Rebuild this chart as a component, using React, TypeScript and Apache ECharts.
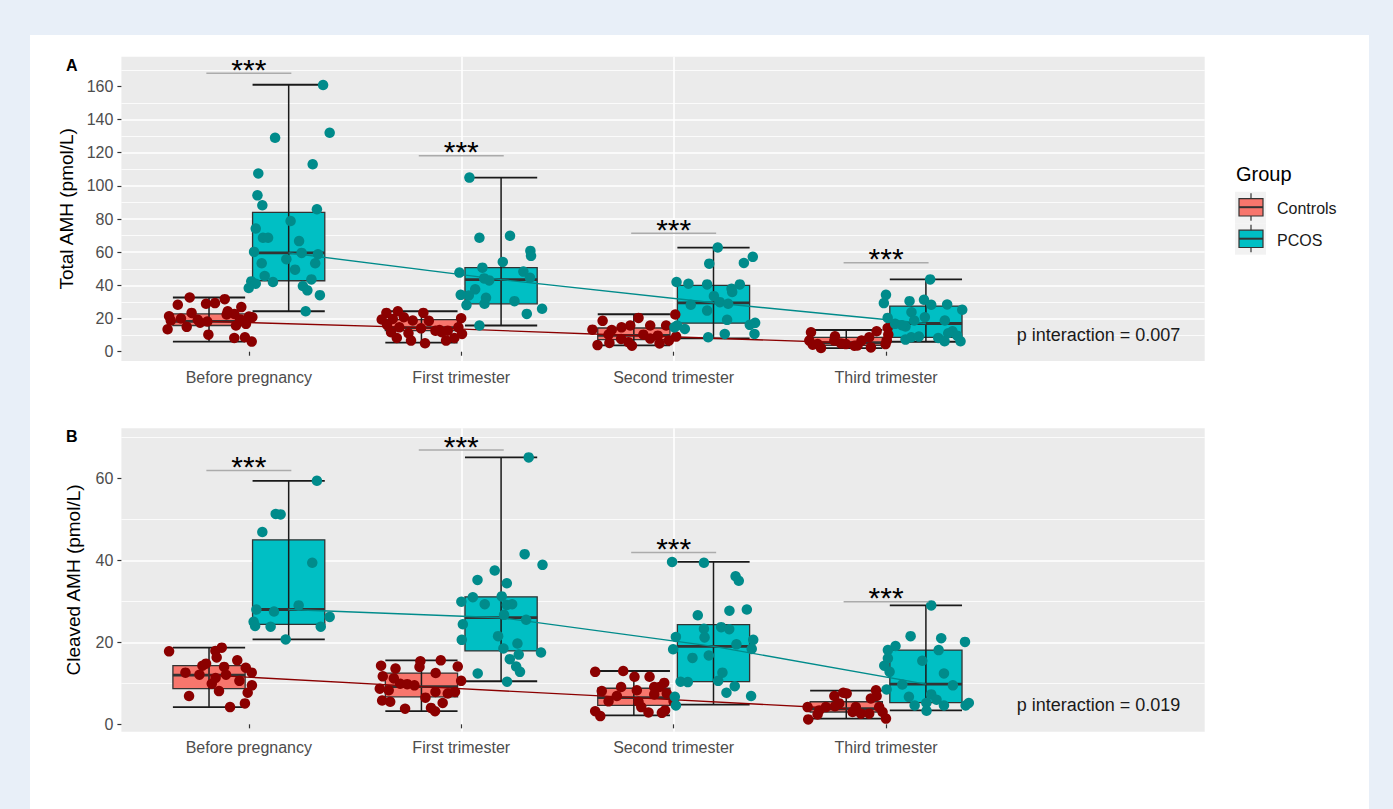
import React, { useEffect, useRef } from "react";
import * as echarts from "echarts";

const FONT = "'Liberation Sans', Arial, Helvetica, sans-serif";

const CATEGORIES = ["Before pregnancy", "First trimester", "Second trimester", "Third trimester"];
const CAT_POS = [1, 2, 3, 4];
const GROUPS = ["Controls", "PCOS"];

const A_TICKS = [0, 20, 40, 60, 80, 100, 120, 140, 160];
const B_TICKS = [0, 20, 40, 60];

// box statistics: [min, Q1, median, Q3, max]
const A_CTRL_BOX = [
  [6.1, 15.8, 18.3, 22.8, 32.7],
  [5.5, 12.7, 14.5, 19.4, 24.4],
  [3.8, 7.3, 9.8, 14.3, 22.6],
  [2.2, 3.8, 5.4, 8.7, 13.1],
];
const A_PCOS_BOX = [
  [24.4, 42.8, 59.6, 84, 161],
  [15.8, 28.9, 43.5, 50.7, 105],
  [8.1, 17.2, 29.5, 40, 62.8],
  [6.0, 8.7, 17, 27.5, 43.6],
];
const B_CTRL_BOX = [
  [4.2, 8.7, 12, 14.3, 18.7],
  [3.2, 6.7, 9.2, 12.5, 15.6],
  [2.2, 4.6, 6.5, 8.8, 13],
  [1.4, 3, 3.8, 5.5, 8.2],
];
const B_PCOS_BOX = [
  [20.7, 24.4, 28, 45, 59.4],
  [10.5, 17.9, 26, 31.1, 65.1],
  [4.8, 10.4, 19, 24.3, 39.6],
  [3.4, 5.3, 9.8, 18.1, 29],
];

// jittered points: [horizontal jitter (category units), value]
const A_CTRL_PTS = [
  [[-0.091, 32.7], [0.074, 31.7], [-0.147, 28.3], [-0.014, 28.9], [0.028, 29.3], [0.152, 26.9], [0.088, 24.4], [0.119, 22.8], [-0.082, 23.4], [-0.188, 21.4], [-0.18, 18.8], [-0.132, 20], [-0.105, 15], [-0.053, 19.2], [-0.008, 18.2], [0.083, 22.4], [0.188, 21.2], [0.204, 20.8], [0.127, 15.8], [0.174, 16.8], [-0.195, 13.5], [-0.003, 10.3], [0.119, 8.3], [0.169, 8.7], [0.201, 6.1], [-0.042, 17.5], [0.146, 19.5]],
  [[-0.165, 23.4], [-0.111, 24.4], [0.009, 23.4], [-0.187, 19.4], [-0.135, 19.8], [-0.083, 20.8], [-0.041, 18.8], [0.035, 18.6], [0.187, 20.2], [-0.162, 16.2], [-0.104, 14.7], [-0.002, 14.1], [0.085, 13.1], [0.124, 12.7], [0.174, 14.7], [-0.143, 11.7], [-0.061, 11.1], [-0.116, 8.3], [-0.049, 6.7], [0.116, 6.7], [0.155, 8.3], [0.191, 10.7], [0.017, 5.1], [0.096, 11.7], [0.066, 12.6]],
  [[-0.147, 18.6], [0.022, 20.4], [0.195, 22.4], [0.199, 9.1], [-0.195, 13.3], [-0.104, 13.1], [-0.058, 14.7], [-0.017, 15.8], [0.077, 15.8], [0.152, 15.8], [-0.119, 10.3], [0.045, 10.3], [0.113, 9.7], [-0.171, 4], [-0.115, 5.3], [-0.025, 5.7], [-0.009, 3.6], [0.121, 5], [0.165, 6.7], [-0.06, 7.7], [0.077, 7.9]],
  [[-0.166, 11.7], [-0.174, 6.7], [-0.135, 4.6], [-0.119, 2.2], [-0.053, 9.3], [-0.056, 6.7], [-0.002, 4.6], [0.038, 3.6], [0.072, 6.7], [0.108, 8.7], [0.116, 2.6], [0.143, 12.3], [0.195, 14.3], [0.198, 10.3], [0.191, 6.7], [0.185, 4.6], [-0.025, 5], [0.053, 3.8], [-0.158, 4.2]],
];
const A_PCOS_PTS = [
  [[0.162, 160.8], [0.193, 132], [-0.064, 129], [0.113, 113], [-0.143, 107.5], [-0.147, 94.3], [-0.124, 88.3], [0.133, 85.9], [0.009, 78.8], [-0.155, 74.3], [-0.121, 68.7], [-0.097, 68.7], [0.049, 66.7], [-0.163, 60.2], [0.061, 59.6], [0.138, 58.8], [-0.011, 55.8], [0.125, 53.3], [-0.127, 53.3], [0.03, 49.5], [-0.113, 45.7], [-0.074, 42], [-0.176, 42.4], [-0.155, 41], [-0.188, 38.4], [0.107, 43.6], [0.067, 39.6], [0.088, 37], [0.147, 34.1], [0.08, 24.4]],
  [[-0.149, 105], [-0.102, 68.7], [0.042, 69.9], [0.138, 60.8], [0.141, 57.8], [0.008, 54.1], [-0.088, 50.7], [-0.196, 47.7], [0.105, 48.3], [0.136, 44.6], [-0.08, 44.2], [-0.056, 43], [-0.122, 37.6], [-0.19, 34.3], [-0.152, 33.9], [-0.071, 32.5], [-0.078, 28.9], [-0.163, 28.1], [0.063, 30.5], [0.193, 25.9], [0.121, 22.8], [-0.102, 15.8]],
  [[0.02, 62.8], [0.185, 57.2], [0.143, 53.5], [-0.02, 53.1], [-0.174, 42], [-0.118, 41], [-0.03, 40.6], [0.124, 40.6], [0.085, 38], [0.088, 36], [0.002, 33.5], [0.03, 29.9], [0.069, 28.9], [-0.107, 28.3], [-0.03, 24.8], [0.064, 19.2], [0.196, 17.4], [0.171, 16.2], [-0.171, 15.8], [-0.135, 13.7], [-0.184, 14.7], [0.193, 10.7], [0.053, 10.7], [-0.025, 8.7]],
  [[0.02, 43.6], [-0.188, 34.3], [-0.198, 29.3], [-0.077, 30.5], [-0.009, 31.3], [0.025, 28.3], [0.1, 28.5], [0.171, 25.3], [-0.068, 23.8], [-0.055, 18.8], [-0.18, 20.4], [-0.145, 16.8], [-0.096, 15.2], [-0.005, 20.8], [0.089, 18.8], [0.125, 12.3], [0.105, 11.1], [-0.096, 7.3], [-0.069, 8.7], [-0.033, 9.1], [0.058, 8.3], [0.088, 6.3], [0.163, 6.3], [0.147, 9.7], [-0.113, 16]],
];
const B_CTRL_PTS = [
  [[-0.188, 17.8], [0.06, 18.7], [0.03, 17.9], [0.036, 16.3], [0.133, 15.6], [-0.031, 14.3], [-0.014, 14.8], [0.071, 14], [0.173, 13.8], [-0.111, 12.6], [-0.045, 12.1], [0.201, 12.6], [0.08, 12.1], [0.031, 11.3], [0.013, 9.9], [0.143, 10.6], [0.202, 9.5], [0.182, 7.7], [0.047, 8.1], [-0.094, 6.9], [0.099, 4.2], [0.169, 5.1]],
  [[-0.19, 14.3], [-0.122, 13.6], [-0.005, 15.4], [0.091, 15.6], [0.171, 14.1], [-0.009, 14], [0.067, 12.5], [-0.182, 11.7], [-0.13, 11.2], [0.187, 10.6], [-0.1, 9.9], [-0.067, 9.8], [-0.033, 9.5], [-0.196, 8.7], [-0.154, 8.3], [0.066, 7.9], [0.124, 7.5], [0.158, 7.9], [-0.185, 5.8], [-0.147, 5.5], [0.019, 6.5], [0.1, 5.2], [-0.077, 3.8], [0.045, 4], [0.064, 3.2]],
  [[-0.182, 12.8], [-0.05, 13], [0.003, 11.6], [0.074, 11.6], [-0.06, 9.1], [-0.151, 8.1], [0.014, 8.3], [0.096, 9.1], [0.143, 10.1], [0.121, 9.1], [-0.119, 5.6], [-0.08, 6.9], [0.022, 5.5], [0.096, 7.3], [0.155, 7.5], [0.187, 5.6], [0.035, 4.2], [0.069, 2.9], [0.132, 2.8], [0.147, 3.4], [-0.182, 3.2], [-0.158, 2]],
  [[-0.056, 6.9], [-0.014, 7.7], [0.002, 7.5], [0.14, 8.3], [0.143, 6.9], [0.116, 6.3], [-0.033, 5.1], [-0.053, 4.4], [-0.182, 4.2], [-0.127, 3.4], [-0.135, 2.4], [-0.179, 1.2], [0.03, 3], [0.069, 2.6], [0.108, 2.6], [0.187, 1.4], [0.171, 3], [0.155, 4.2], [-0.096, 4.2], [0.045, 4.2]],
];
const B_PCOS_PTS = [
  [[0.133, 59.4], [-0.061, 51.3], [-0.038, 51.2], [-0.124, 46.9], [0.111, 39.4], [0.047, 29], [-0.152, 28], [-0.069, 27.5], [0.193, 26.2], [-0.165, 25], [-0.158, 24], [-0.085, 23.8], [0.151, 23.8], [-0.014, 20.7]],
  [[0.13, 65.1], [0.111, 41.5], [0.195, 38.9], [-0.03, 37.5], [-0.111, 35.2], [0.027, 34.4], [-0.187, 29.9], [-0.133, 31], [-0.077, 29.3], [0.003, 31.2], [0.027, 29.1], [0.052, 29.3], [0.014, 26.7], [0.118, 25.5], [-0.18, 24.4], [-0.014, 21.5], [-0.185, 20.6], [0.077, 19.7], [0.083, 17], [0.188, 17.5], [0.011, 18.5], [0.041, 15.9], [0.071, 14.1], [0.089, 12.8], [-0.11, 12.4], [0.028, 10.4]],
  [[-0.195, 39.6], [-0.045, 39.4], [0.104, 36.1], [0.119, 35], [0.075, 27.7], [0.157, 28], [-0.074, 26.6], [-0.045, 23.3], [-0.042, 21.2], [0.036, 23.7], [0.074, 23.2], [-0.177, 21.3], [-0.19, 18.3], [0.187, 20.6], [0.18, 18.4], [0.108, 19.5], [-0.022, 16.8], [-0.099, 16.2], [0.042, 12.6], [0.022, 10.6], [-0.155, 10.4], [-0.121, 10.3], [0.1, 9.3], [0.061, 7.7], [0.177, 6.9], [-0.177, 4.6], [-0.182, 6.7]],
  [[0.025, 29], [-0.072, 21.5], [0.072, 21], [0.184, 20.1], [-0.143, 19.1], [-0.179, 18.1], [0.06, 18.1], [-0.179, 16.1], [-0.196, 14.3], [-0.017, 15.5], [-0.171, 12.8], [0.085, 12.4], [-0.111, 9.7], [0.127, 9.5], [-0.185, 8.5], [-0.08, 6.7], [0.025, 7.3], [0.05, 6], [0.085, 4.6], [-0.053, 4.6], [0.002, 5.2], [0.003, 3.3], [0.187, 4.6], [0.202, 5.2]],
];

// significance bar heights
const A_SIG_Y = [167.9, 118.2, 71.4, 53.7];
const B_SIG_Y = [61.9, 66.9, 41.9, 29.9];
const SIG_LABEL = "***";

const A_P_TEXT = "p interaction = 0.007";
const B_P_TEXT = "p interaction = 0.019";
const A_P_POS = [5, 10];
const B_P_POS = [5, 4.7];

const A_TITLE = "Total AMH (pmol/L)";
const B_TITLE = "Cleaved AMH (pmol/L)";

// layout / style constants
const DODGE = 0.1875;
const BOX_W = 0.34;
const SIG_HALF = 0.2;
const CTRL_FILL = "#F8766D";
const PCOS_FILL = "#00BFC4";
const CTRL_PT = "#8B0000";
const PCOS_PT = "#008B8B";
const PANEL_BG = "#EBEBEB";

function boxRenderer(fill: string) {
  return (params: any, api: any) => {
    const x = api.value(0);
    const mn = api.value(1), q1 = api.value(2), md = api.value(3), q3 = api.value(4), mx = api.value(5);
    const w = api.size([BOX_W, 0])[0];
    const cx = api.coord([x, md])[0];
    const y = (v: number) => api.coord([x, v])[1];
    const l = cx - w / 2, r = cx + w / 2;
    return {
      type: "group",
      children: [
        { type: "rect", shape: { x: l, y: y(q3), width: w, height: y(q1) - y(q3) }, style: { fill, stroke: "#333333", lineWidth: 1.3 } },
        { type: "line", shape: { x1: cx, y1: y(mx), x2: cx, y2: y(mn) }, style: { stroke: "#1a1a1a", lineWidth: 1.5 } },
        { type: "line", shape: { x1: l, y1: y(mx), x2: r, y2: y(mx) }, style: { stroke: "#1a1a1a", lineWidth: 1.8 } },
        { type: "line", shape: { x1: l, y1: y(mn), x2: r, y2: y(mn) }, style: { stroke: "#1a1a1a", lineWidth: 1.8 } },
        { type: "line", shape: { x1: l, y1: y(md), x2: r, y2: y(md) }, style: { stroke: "#333333", lineWidth: 2.8 } },
      ],
    };
  };
}

function sigRenderer(params: any, api: any) {
  const x = api.value(0), yv = api.value(1);
  const p1 = api.coord([x - SIG_HALF, yv]);
  const p2 = api.coord([x + SIG_HALF, yv]);
  const pc = api.coord([x, yv]);
  return {
    type: "group",
    children: [
      { type: "line", shape: { x1: p1[0], y1: p1[1], x2: p2[0], y2: p2[1] }, style: { stroke: "#ABABAB", lineWidth: 1.5 } },
      { type: "text", x: pc[0], y: pc[1] - 4, style: { text: SIG_LABEL, fontSize: 30, fill: "#000", align: "center", verticalAlign: "middle", fontFamily: FONT } },
    ],
  };
}

function buildPanel(idx: number, ctrlBox: number[][], pcosBox: number[][], ctrlPts: number[][][], pcosPts: number[][][], sigY: number[], pText: string, pPos: number[]) {
  const ax = { xAxisIndex: idx, yAxisIndex: idx };
  const boxData = (box: number[][], off: number) => box.map((s, i) => [CAT_POS[i] + off, ...s]);
  const ptData = (pts: number[][][], off: number) => {
    const out: number[][] = [];
    pts.forEach((arr, i) => arr.forEach(([dx, v]) => out.push([CAT_POS[i] + off + dx, v])));
    return out;
  };
  const medData = (box: number[][], off: number) => box.map((s, i) => [CAT_POS[i] + off, s[2]]);
  return [
    { type: "custom", name: GROUPS[0], ...ax, z: 2, renderItem: boxRenderer(CTRL_FILL), encode: { x: 0, y: [1, 2, 3, 4, 5] }, data: boxData(ctrlBox, -DODGE), itemStyle: { color: CTRL_FILL } },
    { type: "custom", name: GROUPS[1], ...ax, z: 2, renderItem: boxRenderer(PCOS_FILL), encode: { x: 0, y: [1, 2, 3, 4, 5] }, data: boxData(pcosBox, DODGE), itemStyle: { color: PCOS_FILL } },
    { type: "line", name: GROUPS[0] + " median", ...ax, z: 3, symbol: "none", data: medData(ctrlBox, -DODGE), lineStyle: { color: CTRL_PT, width: 1.4 } },
    { type: "line", name: GROUPS[1] + " median", ...ax, z: 3, symbol: "none", data: medData(pcosBox, DODGE), lineStyle: { color: PCOS_PT, width: 1.4 } },
    { type: "scatter", name: GROUPS[0] + " points", ...ax, z: 4, symbolSize: 10.5, data: ptData(ctrlPts, -DODGE), itemStyle: { color: CTRL_PT, opacity: 1 } },
    { type: "scatter", name: GROUPS[1] + " points", ...ax, z: 4, symbolSize: 10.5, data: ptData(pcosPts, DODGE), itemStyle: { color: PCOS_PT, opacity: 1 } },
    { type: "custom", name: "signif", ...ax, z: 5, renderItem: sigRenderer, encode: { x: 0, y: 1 }, data: sigY.map((v, i) => [CAT_POS[i], v]) },
    {
      type: "custom", name: "p interaction", ...ax, z: 5, encode: { x: 0, y: 1 }, data: [pPos],
      renderItem: (params: any, api: any) => {
        const p = api.coord([api.value(0), api.value(1)]);
        return { type: "text", x: p[0], y: p[1], style: { text: pText, fontSize: 18, fill: "#1a1a1a", align: "center", verticalAlign: "middle", fontFamily: FONT } };
      },
    },
  ];
}

const GRID_LEFT = 121.4;
const GRID_W = 1083.3;

function xAxis(idx: number) {
  return {
    type: "value", gridIndex: idx, min: 0.4, max: 5.5, minInterval: 1, maxInterval: 1,
    axisLine: { show: false },
    axisTick: { show: true, length: 4, customValues: CAT_POS, lineStyle: { color: "#333333", width: 1.2 } },
    axisLabel: { customValues: CAT_POS, formatter: (v: number) => CATEGORIES[Math.round(v) - 1] ?? "", color: "#4D4D4D", fontSize: 16, margin: 8, fontFamily: FONT },
    splitLine: { show: true, showMinLine: false, showMaxLine: false, lineStyle: { color: "#FFFFFF", width: 1.6 } },
  };
}

function yAxis(idx: number, min: number, max: number, ticks: number[], title: string) {
  return {
    type: "value", gridIndex: idx, min, max, minInterval: 20, maxInterval: 20,
    name: title, nameLocation: "middle", nameGap: 38, nameRotate: 90,
    nameTextStyle: { fontSize: 19, color: "#000", fontFamily: FONT },
    axisLine: { show: false },
    axisTick: { show: true, length: 4, customValues: ticks, lineStyle: { color: "#333333", width: 1.2 } },
    axisLabel: { customValues: ticks, color: "#4D4D4D", fontSize: 16, margin: 8, fontFamily: FONT },
    splitLine: { show: true, showMinLine: false, showMaxLine: false, lineStyle: { color: "#FFFFFF", width: 1.6 } },
    minorTick: { show: false, splitNumber: 2 },
    minorSplitLine: { show: true, lineStyle: { color: "#FFFFFF", width: 0.8 } },
  };
}

function legendGlyph(y0: number, fill: string) {
  // y0 = top of key square
  return [
    { type: "rect", shape: { x: 1235, y: y0, width: 31, height: 31.5 }, style: { fill: "#F2F2F2" } },
    { type: "line", shape: { x1: 1251, y1: y0 + 1.5, x2: 1251, y2: y0 + 29 }, style: { stroke: "#333333", lineWidth: 1.2 } },
    { type: "rect", shape: { x: 1239, y: y0 + 7, width: 24, height: 17.3 }, style: { fill, stroke: "#333333", lineWidth: 1.2 } },
    { type: "line", shape: { x1: 1239, y1: y0 + 15.5, x2: 1263, y2: y0 + 15.5 }, style: { stroke: "#333333", lineWidth: 2 } },
  ];
}

export default function App() {
  const ref = useRef<HTMLDivElement>(null);
  useEffect(() => {
    if (!ref.current) return;
    const chart = echarts.init(ref.current, null, { renderer: "svg" });
    const option: any = {
      animation: false,
      textStyle: { fontFamily: FONT },
      grid: [
        { left: GRID_LEFT, top: 56.7, width: GRID_W, height: 304.3, show: true, backgroundColor: PANEL_BG, borderWidth: 0, outerBoundsMode: "none" },
        { left: GRID_LEFT, top: 428.3, width: GRID_W, height: 303.4, show: true, backgroundColor: PANEL_BG, borderWidth: 0, outerBoundsMode: "none" },
      ],
      xAxis: [xAxis(0), xAxis(1)],
      yAxis: [yAxis(0, -5.6, 177.9, A_TICKS, A_TITLE), yAxis(1, -1.8, 72.2, B_TICKS, B_TITLE)],
      series: [
        ...buildPanel(0, A_CTRL_BOX, A_PCOS_BOX, A_CTRL_PTS, A_PCOS_PTS, A_SIG_Y, A_P_TEXT, A_P_POS),
        ...buildPanel(1, B_CTRL_BOX, B_PCOS_BOX, B_CTRL_PTS, B_PCOS_PTS, B_SIG_Y, B_P_TEXT, B_P_POS),
      ],
      graphic: [
        { type: "text", x: 66, y: 65.5, style: { text: "A", fontSize: 16, fontWeight: "bold", fill: "#000", verticalAlign: "middle", fontFamily: FONT } },
        { type: "text", x: 66, y: 436.5, style: { text: "B", fontSize: 16, fontWeight: "bold", fill: "#000", verticalAlign: "middle", fontFamily: FONT } },
        { type: "text", x: 1236, y: 174, style: { text: "Group", fontSize: 20, fill: "#000", verticalAlign: "middle", fontFamily: FONT } },
        ...legendGlyph(191.7, CTRL_FILL),
        ...legendGlyph(223.2, PCOS_FILL),
        { type: "text", x: 1277, y: 208, style: { text: GROUPS[0], fontSize: 16, fill: "#1a1a1a", verticalAlign: "middle", fontFamily: FONT } },
        { type: "text", x: 1277, y: 240, style: { text: GROUPS[1], fontSize: 16, fill: "#1a1a1a", verticalAlign: "middle", fontFamily: FONT } },
      ],
    };
    chart.setOption(option);
    return () => chart.dispose();
  }, []);
  return (
    <div style={{ position: "fixed", left: 0, top: 0, width: 1393, height: 809, background: "#E8EFF8", overflow: "hidden" }}>
      <div style={{ position: "absolute", left: 30, top: 35, width: 1339, height: 774, background: "#FFFFFF" }} />
      <div ref={ref} style={{ position: "absolute", left: 0, top: 0, width: 1393, height: 809 }} />
    </div>
  );
}
